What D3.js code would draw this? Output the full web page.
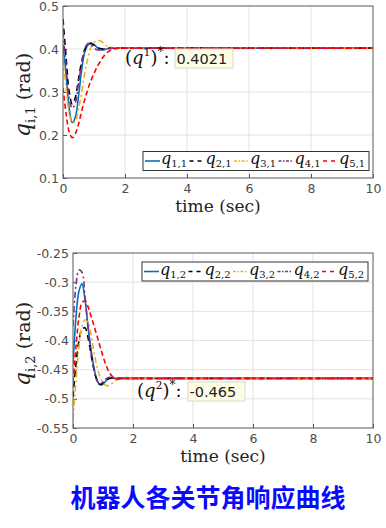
<!DOCTYPE html>
<html>
<head>
<meta charset="utf-8">
<script src="https://cdn.jsdelivr.net/npm/d3@7"></script>
<style>
  body { margin: 0; background: #fff; }
  svg { display: block; }
</style>
</head>
<body>
<div id="chart"></div>
<script>
// time samples shared by every series (sec)
const TIME = [0, 0.1, 0.2, 0.3, 0.4, 0.5, 0.6, 0.7, 0.8, 0.9, 1.0, 1.1, 1.2, 1.3, 1.4, 1.5, 1.6, 1.8, 2.0, 10];

// joint 1 responses q_{i,1}
const Q11 = [0.41, 0.34, 0.262, 0.229, 0.242, 0.29, 0.35, 0.393, 0.409, 0.413, 0.41, 0.404, 0.399, 0.398, 0.4, 0.401, 0.402, 0.4021, 0.4021, 0.4021];
const Q21 = [0.47, 0.38, 0.3, 0.272, 0.288, 0.33, 0.37, 0.398, 0.411, 0.413, 0.409, 0.404, 0.401, 0.4, 0.401, 0.402, 0.402, 0.4021, 0.4021, 0.4021];
const Q31 = [0.375, 0.31, 0.25, 0.228, 0.232, 0.26, 0.3, 0.343, 0.378, 0.403, 0.415, 0.42, 0.419, 0.414, 0.408, 0.405, 0.403, 0.402, 0.4021, 0.4021];
const Q41 = [0.44, 0.36, 0.285, 0.262, 0.275, 0.32, 0.365, 0.4, 0.413, 0.41, 0.403, 0.398, 0.398, 0.4, 0.401, 0.402, 0.402, 0.4021, 0.4021, 0.4021];
const Q51 = [0.31, 0.25, 0.207, 0.194, 0.203, 0.225, 0.255, 0.282, 0.306, 0.326, 0.343, 0.358, 0.371, 0.382, 0.39, 0.396, 0.399, 0.402, 0.4021, 0.4021];

// joint 2 responses q_{i,2}
const Q12 = [-0.44, -0.36, -0.315, -0.303, -0.33, -0.375, -0.415, -0.447, -0.468, -0.476, -0.475, -0.469, -0.465, -0.464, -0.465, -0.465, -0.465, -0.465, -0.465, -0.465];
const Q22 = [-0.497, -0.44, -0.4, -0.381, -0.378, -0.395, -0.423, -0.45, -0.468, -0.475, -0.473, -0.468, -0.465, -0.464, -0.465, -0.465, -0.465, -0.465, -0.465, -0.465];
const Q32 = [-0.535, -0.47, -0.41, -0.375, -0.365, -0.368, -0.39, -0.42, -0.445, -0.462, -0.472, -0.477, -0.477, -0.474, -0.47, -0.467, -0.465, -0.465, -0.465, -0.465];
const Q42 = [-0.375, -0.305, -0.279, -0.283, -0.325, -0.378, -0.42, -0.45, -0.469, -0.475, -0.471, -0.466, -0.463, -0.464, -0.465, -0.465, -0.465, -0.465, -0.465, -0.465];
const Q52 = [-0.47, -0.41, -0.36, -0.335, -0.332, -0.342, -0.358, -0.375, -0.392, -0.41, -0.427, -0.442, -0.454, -0.461, -0.465, -0.466, -0.465, -0.465, -0.465, -0.465];

const X_TICKS = [0, 2, 4, 6, 8, 10];
const Y1_TICKS = [0.1, 0.2, 0.3, 0.4, 0.5];
const Y2_TICKS = [-0.55, -0.5, -0.45, -0.4, -0.35, -0.3, -0.25];

const SERIES_COLORS = ["#0072BD", "#000000", "#EDB120", "#7E2F8E", "#FF0000"];
const SERIES_DASH = [null, "6,4", "6,3,2,3", "6,3,2,3", "5,3"];

const TITLE = "机器人各关节角响应曲线";

const W = 386, H = 528;
const svg = d3.select("#chart").append("svg").attr("width", W).attr("height", H);

const SERIF = "'DejaVu Serif', 'Liberation Serif', serif";
const SANS = "'DejaVu Sans', 'Liberation Sans', sans-serif";

// Draw one subplot: frame, grid, ticks, curves, legend and the data tip
function drawPanel(p) {
	const x = d3.scaleLinear().domain([0, 10]).range([p.left, p.right]);
	const y = d3.scaleLinear().domain(p.yDomain).range([p.bottom, p.top]);
	const g = svg.append("g");

	const clipId = "clip" + p.id;
	g.append("clipPath").attr("id", clipId)
		.append("rect")
		.attr("x", p.left).attr("y", p.top)
		.attr("width", p.right - p.left).attr("height", p.bottom - p.top);

	// grid
	g.append("g").selectAll("line").data(X_TICKS).join("line")
		.attr("x1", d => x(d)).attr("x2", d => x(d))
		.attr("y1", p.top).attr("y2", p.bottom)
		.attr("stroke", "#e3e3e3").attr("stroke-width", 1);
	g.append("g").selectAll("line").data(p.yTicks).join("line")
		.attr("x1", p.left).attr("x2", p.right)
		.attr("y1", d => y(d)).attr("y2", d => y(d))
		.attr("stroke", "#e3e3e3").attr("stroke-width", 1);

	// axes with inward ticks like matlab
	const fmt = d => String(+d.toFixed(2));
	const xAxis = g.append("g").attr("transform", `translate(0,${p.bottom})`)
		.call(d3.axisBottom(x).tickValues(X_TICKS).tickFormat(fmt).tickSizeInner(-4).tickSizeOuter(0).tickPadding(6));
	const yAxis = g.append("g").attr("transform", `translate(${p.left},0)`)
		.call(d3.axisLeft(y).tickValues(p.yTicks).tickFormat(fmt).tickSizeInner(-4).tickSizeOuter(0).tickPadding(4));
	[xAxis, yAxis].forEach(a => {
		a.select(".domain").remove();
		a.selectAll(".tick line").attr("stroke", "#555");
		a.selectAll(".tick text").attr("fill", "#4d4d4d")
			.style("font-family", SANS).style("font-size", "12.5px");
	});

	// curves
	const line = d3.line()
		.x((d, i) => x(TIME[i]))
		.y(d => y(d))
		.curve(d3.curveCatmullRom.alpha(0.5));
	g.append("g").attr("clip-path", `url(#${clipId})`)
		.selectAll("path").data(p.series).join("path")
		.attr("d", d => line(d))
		.attr("fill", "none")
		.attr("stroke", (d, i) => SERIES_COLORS[i])
		.attr("stroke-width", 1.6)
		.attr("stroke-dasharray", (d, i) => SERIES_DASH[i]);

	// frame
	g.append("rect")
		.attr("x", p.left).attr("y", p.top)
		.attr("width", p.right - p.left).attr("height", p.bottom - p.top)
		.attr("fill", "none").attr("stroke", "#666").attr("stroke-width", 1);

	// x label
	g.append("text")
		.attr("x", (p.left + p.right) / 2).attr("y", p.xLabelY)
		.attr("text-anchor", "middle")
		.style("font-family", SERIF).style("font-size", "17px")
		.attr("fill", "#222")
		.text("time (sec)");

	// y label
	const yl = g.append("text")
		.attr("transform", `translate(${p.yLabel[0]},${p.yLabel[1]}) rotate(-90)`)
		.attr("text-anchor", "middle")
		.style("font-family", SERIF).attr("fill", "#222");
	yl.append("tspan").style("font-style", "italic").style("font-size", "22px").text("q");
	yl.append("tspan").style("font-size", "13px").attr("dy", 5).text("i," + p.joint);
	yl.append("tspan").style("font-size", "19px").attr("dy", -5).text(" (rad)");

	// legend
	const lg = g.append("g");
	lg.append("rect")
		.attr("x", p.legend.x).attr("y", p.legend.y)
		.attr("width", p.legend.w).attr("height", 19)
		.attr("fill", "#fff").attr("stroke", "#333").attr("stroke-width", 1);
	p.series.forEach((s, i) => {
		const ex = p.legend.x + 2 + i * 44.5;
		const cy = p.legend.y + 9.5;
		lg.append("line")
			.attr("x1", ex).attr("x2", ex + 15)
			.attr("y1", cy).attr("y2", cy)
			.attr("stroke", SERIES_COLORS[i]).attr("stroke-width", 1.6)
			.attr("stroke-dasharray", SERIES_DASH[i] ? (i === 1 || i === 4 ? "4,4" : "3,1.5,1.5,1.5") : null);
		const t = lg.append("text")
			.attr("x", ex + 16).attr("y", cy + 3)
			.style("font-family", SERIF).attr("fill", "#111");
		t.append("tspan").style("font-style", "italic").style("font-size", "16px").text("q");
		t.append("tspan").style("font-size", "10px").attr("dy", 3).text((i + 1) + "," + p.joint);
	});

	// data tip annotation
	const an = g.append("text")
		.attr("x", p.tip.x).attr("y", p.tip.y)
		.style("font-family", SERIF).style("font-size", "18px").attr("fill", "#111");
	an.append("tspan").text("(");
	an.append("tspan").style("font-style", "italic").text("q");
	an.append("tspan").style("font-size", "11px").attr("dy", -8).text(p.joint);
	an.append("tspan").attr("dy", 8).text(")");
	an.append("tspan").style("font-size", "12px").attr("dy", -8).text("*");
	an.append("tspan").attr("dy", 8).text(":");
	g.append("rect")
		.attr("x", p.tip.bx).attr("y", p.tip.y - 15)
		.attr("width", p.tip.bw).attr("height", 19)
		.attr("fill", "#fdfde6").attr("stroke", "#d8d8c8").attr("stroke-width", 1);
	g.append("text")
		.attr("x", p.tip.bx + 1.5).attr("y", p.tip.y)
		.style("font-family", SANS).style("font-size", "14.5px").attr("fill", "#222")
		.text(p.tip.label);
}

drawPanel({
	id: 1, joint: 1,
	left: 63, right: 373, top: 6, bottom: 178,
	yDomain: [0.1, 0.5], yTicks: Y1_TICKS,
	series: [Q11, Q21, Q31, Q41, Q51],
	xLabelY: 212, yLabel: [30, 95],
	legend: { x: 143, y: 151.5, w: 226 },
	tip: { x: 125, y: 64, bx: 175, bw: 58, label: "0.4021" }
});

drawPanel({
	id: 2, joint: 2,
	left: 73, right: 373, top: 253, bottom: 428,
	yDomain: [-0.55, -0.25], yTicks: Y2_TICKS,
	series: [Q12, Q22, Q32, Q42, Q52],
	xLabelY: 462, yLabel: [30, 344],
	legend: { x: 142, y: 262, w: 226 },
	tip: { x: 137, y: 397, bx: 188, bw: 57, label: "-0.465" }
});

// chinese caption
svg.append("text")
	.attr("x", 208).attr("y", 507)
	.attr("text-anchor", "middle")
	.style("font-family", "'Noto Sans CJK SC', sans-serif")
	.style("font-size", "25px").style("font-weight", "bold")
	.attr("fill", "#0a0aff")
	.text(TITLE);
</script>
</body>
</html>
